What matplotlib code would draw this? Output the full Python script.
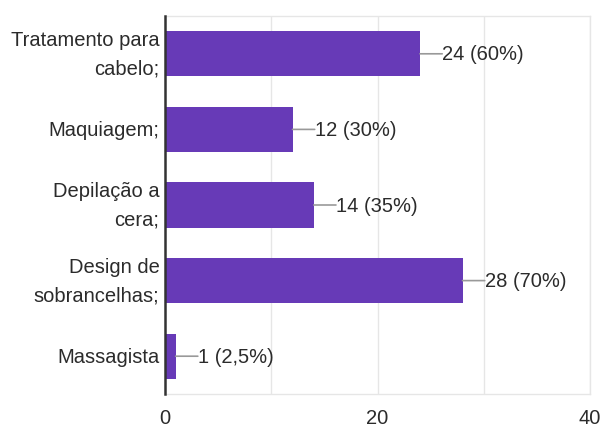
import matplotlib.pyplot as plt

plt.rcParams["font.family"] = ["Liberation Sans", "DejaVu Sans"]

categories = ["Tratamento para\ncabelo;", "Maquiagem;", "Depilação a\ncera;",
              "Design de\nsobrancelhas;", "Massagista"]
counts = [24, 12, 14, 28, 1]
labels = ["24 (60%)", "12 (30%)", "14 (35%)", "28 (70%)", "1 (2,5%)"]
xticks = [0, 20, 40]

BAR_COLOR = "#673AB7"
TEXT_COLOR = "#2b2b2b"
GRID_COLOR = "#e6e6e6"

fig = plt.figure(figsize=(6.01, 4.27), dpi=100)
ax = fig.add_axes([165 / 601, 32 / 427, 425 / 601, 378 / 427])

ypos = list(range(len(categories)))
ax.barh(ypos, counts, height=0.6, color=BAR_COLOR, zorder=3)

for y, v, lab in zip(ypos, counts, labels):
    ax.annotate("", xy=(v, y), xytext=(16, 0), textcoords="offset points",
                arrowprops=dict(arrowstyle="-", color="#999999", lw=1.2,
                                shrinkA=0, shrinkB=0), zorder=4)
    ax.annotate(lab, xy=(v, y), xytext=(16, 0), textcoords="offset points",
                va="center", ha="left", fontsize=14.5, color=TEXT_COLOR)

ax.set_xlim(0, 40)
ax.set_ylim(len(categories) - 0.5, -0.5)

# category names drawn as plain text so wrapped lines stay right-aligned
ax.set_yticks(ypos)
ax.set_yticklabels([])
for y, cat in zip(ypos, categories):
    ax.annotate(cat, xy=(0, y), xycoords=ax.get_yaxis_transform(),
                xytext=(-4, 0), textcoords="offset points",
                ha="right", va="center", multialignment="right",
                linespacing=1.65, fontsize=14.5, color=TEXT_COLOR)

ax.set_xticks(xticks)
ax.set_xticklabels([str(t) for t in xticks], fontsize=14.5, color=TEXT_COLOR)
ax.tick_params(axis="y", length=0)
ax.tick_params(axis="x", length=0, pad=10)

for gx in [10, 20, 30, 40]:
    ax.axvline(gx, color=GRID_COLOR, lw=1, zorder=1)

ax.spines["left"].set_color("#333333")
ax.spines["left"].set_linewidth(1.8)
ax.spines["left"].set_zorder(5)
for side in ["top", "bottom", "right"]:
    ax.spines[side].set_color(GRID_COLOR)
    ax.spines[side].set_linewidth(1)

fig.savefig("out.png", dpi=100)
